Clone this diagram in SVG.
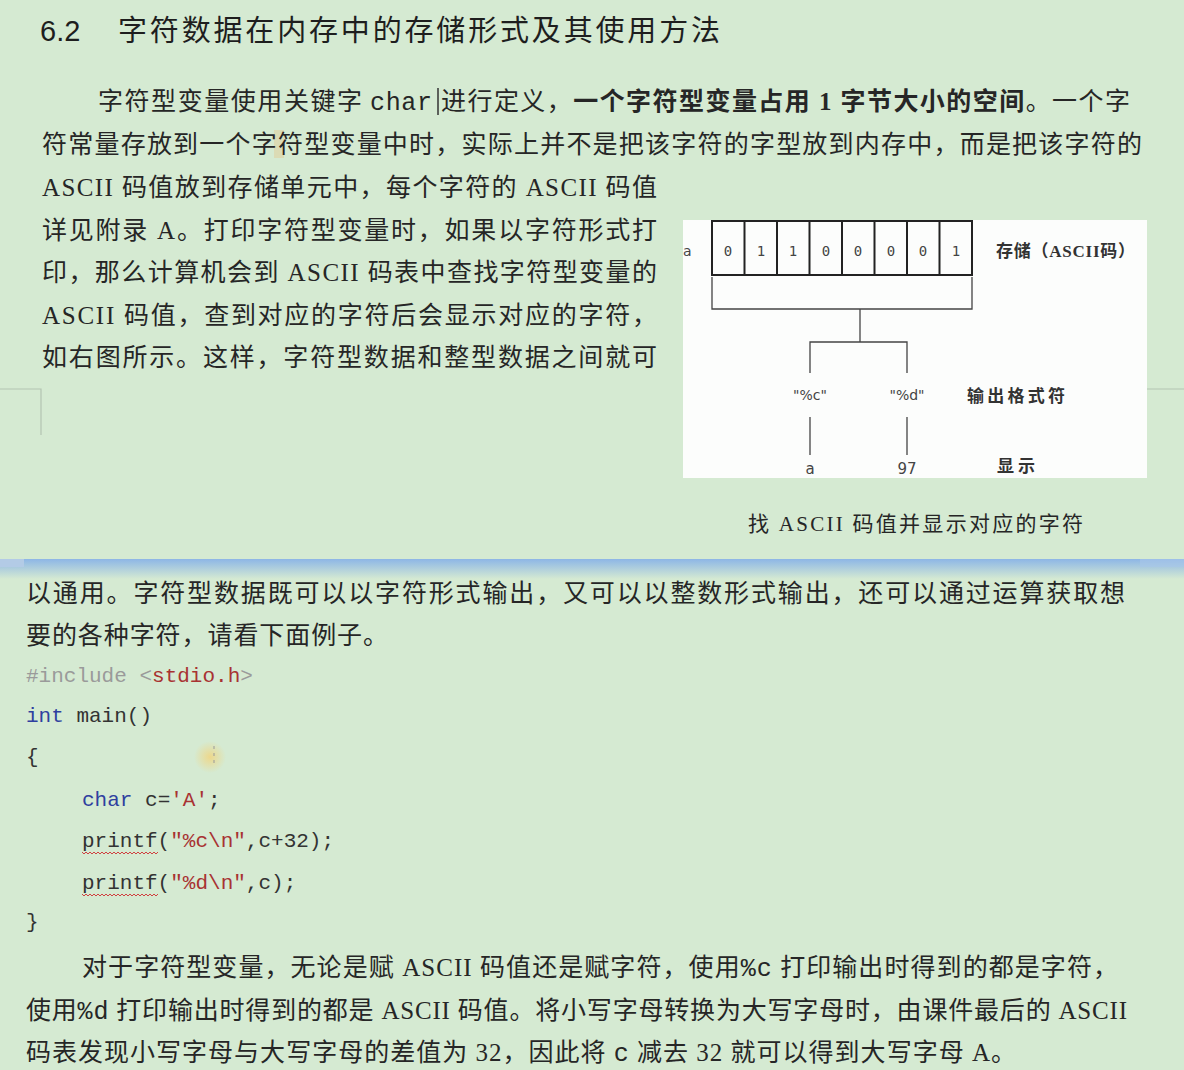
<svg xmlns="http://www.w3.org/2000/svg" width="1184" height="1070" viewBox="0 0 1184 1070">
<style>
.body{font-family:"Liberation Serif","Noto Sans CJK SC",serif;font-size:25px;fill:#262626}
.bold{font-weight:bold}
.mono{font-family:"Liberation Mono","Noto Sans CJK SC",monospace}
.code{font-family:"Liberation Mono","Noto Sans CJK SC",monospace;font-size:21px;fill:#333}
.kw{fill:#2f3f9f}
.str{fill:#a83232}
.pp{fill:#9a9a9a}
.dg{font-family:"DejaVu Sans Mono",monospace;font-size:14px;fill:#444;text-anchor:middle}
.lab{font-family:"Liberation Serif","Noto Sans CJK SC",serif;font-size:17px;fill:#333;font-weight:bold}
.fmt{font-family:"DejaVu Sans",sans-serif;font-size:14px;fill:#444;text-anchor:middle}
.ln{stroke:#222;stroke-width:2;fill:none}
.thin{stroke:#444;stroke-width:1.3;fill:none}
.mark{stroke:#b4c4b2;stroke-width:1.2;fill:none}
.sq{stroke:#d04040;stroke-width:1;fill:none}
</style>
<defs>
<linearGradient id="seam" x1="0" y1="0" x2="0" y2="1">
<stop offset="0" stop-color="#8db6e6"/>
<stop offset="1" stop-color="#d5ead2"/>
</linearGradient>
<radialGradient id="blob">
<stop offset="0" stop-color="#f3d37a" stop-opacity="0.8"/>
<stop offset="1" stop-color="#f3d37a" stop-opacity="0"/>
</radialGradient>
</defs>
<rect width="1184" height="1070" fill="#d5ead2"/>

<!-- page 1 -->
<g id="title">
<text x="40" y="41" style="font-family:'Liberation Sans','Noto Sans CJK SC',sans-serif;font-size:29px;fill:#1e1e1e">6.2</text>
<text x="118" y="41" textLength="602" lengthAdjust="spacing" style="font-family:'Liberation Sans','Noto Sans CJK SC',sans-serif;font-size:29px;fill:#1e1e1e">字符数据在内存中的存储形式及其使用方法</text>
</g>
<rect x="274" y="130" width="10" height="28" fill="#f0b060" opacity="0.25"/>
<g id="para1">
<text class="body" x="98" y="110" textLength="264" lengthAdjust="spacing">字符型变量使用关键字</text>
<text class="body mono" x="370" y="110" textLength="62" lengthAdjust="spacing">char</text>
<line x1="438" y1="88" x2="438" y2="115" stroke="#333" stroke-width="1.5"/>
<text class="body" x="441" y="110" textLength="689" lengthAdjust="spacing">进行定义，<tspan class="bold">一个字符型变量占用 1 字节大小的空间</tspan>。一个字</text>
<text class="body" x="42" y="153" textLength="1100" lengthAdjust="spacing">符常量存放到一个字符型变量中时，实际上并不是把该字符的字型放到内存中，而是把该字符的</text>
<text class="body" x="42" y="196" textLength="615" lengthAdjust="spacing">ASCII 码值放到存储单元中，每个字符的 ASCII 码值</text>
<text class="body" x="42" y="239" textLength="615" lengthAdjust="spacing">详见附录 A。打印字符型变量时，如果以字符形式打</text>
<text class="body" x="42" y="281" textLength="615" lengthAdjust="spacing">印，那么计算机会到 ASCII 码表中查找字符型变量的</text>
<text class="body" x="42" y="324" textLength="615" lengthAdjust="spacing">ASCII 码值，查到对应的字符后会显示对应的字符，</text>
<text class="body" x="42" y="366" textLength="615" lengthAdjust="spacing">如右图所示。这样，字符型数据和整型数据之间就可</text>
</g>

<g id="margin-marks">
<polyline class="mark" points="0,389 41,389 41,435"/>
<line class="mark" x1="1147" y1="389" x2="1184" y2="389"/>
</g>

<!-- figure -->
<g id="figure">
<rect x="683" y="220" width="464" height="258" fill="#fcfdfc"/>
<text x="683" y="256" style="font-family:'DejaVu Sans',sans-serif;font-size:14px;fill:#444">a</text>
<g id="cells">
<rect class="ln" x="712" y="221" width="260" height="54"/>
<line class="ln" x1="744.5" y1="221" x2="744.5" y2="275"/>
<line class="ln" x1="777" y1="221" x2="777" y2="275"/>
<line class="ln" x1="809.5" y1="221" x2="809.5" y2="275"/>
<line class="ln" x1="842" y1="221" x2="842" y2="275"/>
<line class="ln" x1="874.5" y1="221" x2="874.5" y2="275"/>
<line class="ln" x1="907" y1="221" x2="907" y2="275"/>
<line class="ln" x1="939.5" y1="221" x2="939.5" y2="275"/>
<text class="dg" x="728" y="256">0</text>
<text class="dg" x="761" y="256">1</text>
<text class="dg" x="793" y="256">1</text>
<text class="dg" x="826" y="256">0</text>
<text class="dg" x="858" y="256">0</text>
<text class="dg" x="891" y="256">0</text>
<text class="dg" x="923" y="256">0</text>
<text class="dg" x="956" y="256">1</text>
</g>
<text class="lab" x="996" y="257" textLength="139" lengthAdjust="spacing">存储（ASCII码）</text>
<g id="connectors">
<polyline class="thin" points="712,277 712,309 972,309 972,277"/>
<line class="thin" x1="860" y1="309" x2="860" y2="342"/>
<polyline class="thin" points="810,373 810,342 907,342 907,373"/>
<line class="thin" x1="810" y1="417" x2="810" y2="455"/>
<line class="thin" x1="907" y1="417" x2="907" y2="455"/>
</g>
<text class="fmt" x="810" y="400">"%c"</text>
<text class="fmt" x="907" y="400">"%d"</text>
<text class="lab" x="967" y="402" textLength="98" lengthAdjust="spacing">输出格式符</text>
<text class="fmt" x="810" y="474" style="font-size:15px">a</text>
<text class="fmt" x="907" y="474" style="font-size:15px">97</text>
<text class="lab" x="997" y="472" textLength="38" lengthAdjust="spacing">显示</text>
</g>
<text id="caption" class="body" x="748" y="531" textLength="335" lengthAdjust="spacing" style="font-size:21px">找 ASCII 码值并显示对应的字符</text>

<!-- seam -->
<rect x="0" y="559" width="1184" height="20" fill="url(#seam)"/>
<rect x="0" y="559" width="24" height="8" fill="#b3cbe6"/>
<rect x="1140" y="559" width="44" height="8" fill="#a9c6ea" opacity="0.6"/>

<!-- page 2 -->
<g id="para2">
<text class="body" x="26" y="602" textLength="1099" lengthAdjust="spacing">以通用。字符型数据既可以以字符形式输出，又可以以整数形式输出，还可以通过运算获取想</text>
<text class="body" x="26" y="644" textLength="362" lengthAdjust="spacing">要的各种字符，请看下面例子。</text>
</g>

<g id="code">
<text class="code" x="26" y="682"><tspan class="pp">#include &lt;</tspan><tspan class="str">stdio.h</tspan><tspan class="pp">&gt;</tspan></text>
<text class="code" x="26" y="722"><tspan class="kw">int</tspan> main()</text>
<text class="code" x="26" y="763">{</text>
<text class="code" x="82" y="806"><tspan class="kw">char</tspan> c=<tspan class="str">'A'</tspan>;</text>
<text class="code" x="82" y="847">printf(<tspan class="str">"%c\n"</tspan>,c+32);</text>
<path class="sq" d="M82 852 l2 2 l2 -2 l2 2 l2 -2 l2 2 l2 -2 l2 2 l2 -2 l2 2 l2 -2 l2 2 l2 -2 l2 2 l2 -2 l2 2 l2 -2 l2 2 l2 -2 l2 2 l2 -2 l2 2 l2 -2 l2 2 l2 -2 l2 2 l2 -2 l2 2 l2 -2 l2 2 l2 -2 l2 2 l2 -2 l2 2 l2 -2 l2 2 l2 -2 l2 2 l2 -2"/>
<text class="code" x="82" y="889">printf(<tspan class="str">"%d\n"</tspan>,c);</text>
<path class="sq" d="M82 894 l2 2 l2 -2 l2 2 l2 -2 l2 2 l2 -2 l2 2 l2 -2 l2 2 l2 -2 l2 2 l2 -2 l2 2 l2 -2 l2 2 l2 -2 l2 2 l2 -2 l2 2 l2 -2 l2 2 l2 -2 l2 2 l2 -2 l2 2 l2 -2 l2 2 l2 -2 l2 2 l2 -2 l2 2 l2 -2 l2 2 l2 -2 l2 2 l2 -2 l2 2 l2 -2"/>
<text class="code" x="26" y="928">}</text>
</g>
<circle cx="210" cy="757" r="16" fill="url(#blob)"/>
<line x1="214" y1="746" x2="214" y2="766" stroke="#999" stroke-width="1" stroke-dasharray="3,4"/>

<g id="para3">
<text class="body" x="82" y="976" textLength="1036" lengthAdjust="spacing">对于字符型变量，无论是赋 ASCII 码值还是赋字符，使用<tspan class="mono">%c</tspan> 打印输出时得到的都是字符，</text>
<text class="body" x="26" y="1019" textLength="1101" lengthAdjust="spacing">使用<tspan class="mono">%d</tspan> 打印输出时得到的都是 ASCII 码值。将小写字母转换为大写字母时，由课件最后的 ASCII</text>
<text class="body" x="26" y="1061" textLength="990" lengthAdjust="spacing">码表发现小写字母与大写字母的差值为 32，因此将 <tspan class="mono">c</tspan> 减去 32 就可以得到大写字母 A。</text>
</g>
</svg>
